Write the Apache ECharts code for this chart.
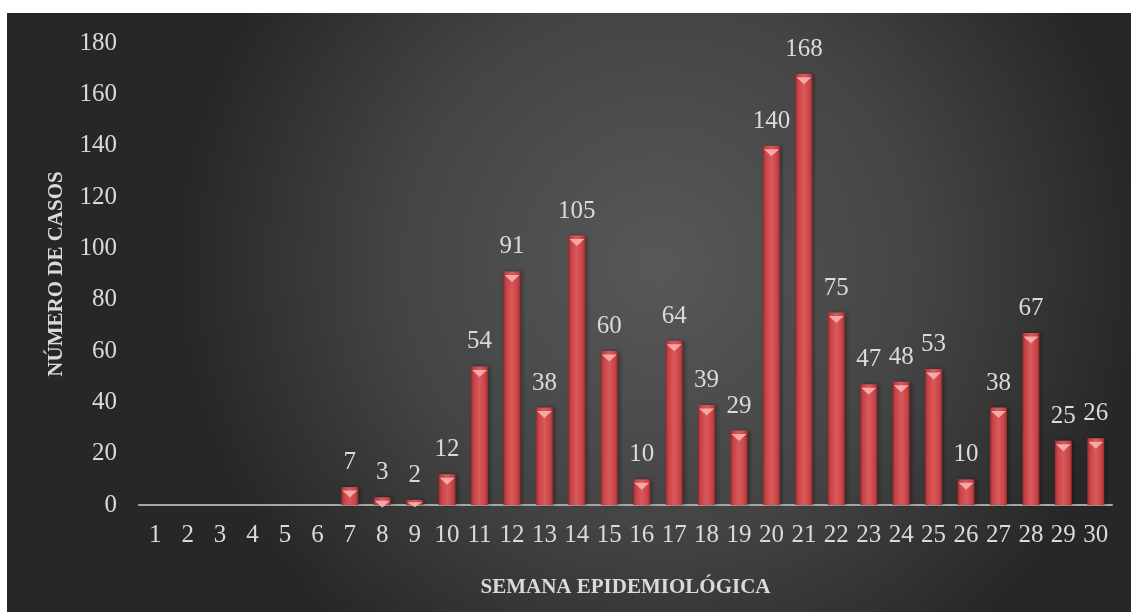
<!DOCTYPE html>
<html>
<head>
<meta charset="utf-8">
<script src="https://cdn.jsdelivr.net/npm/echarts@6/dist/echarts.min.js"></script>
<style>
  html, body { margin: 0; padding: 0; background: #fff; }
  #main { width: 1131px; height: 612px; }
</style>
</head>
<body>
<div id="main"></div>
<script>
// semanas epidemiológicas
const semanas = [
  "1", "2", "3", "4", "5", "6", "7", "8", "9", "10",
  "11", "12", "13", "14", "15", "16", "17", "18", "19", "20",
  "21", "22", "23", "24", "25", "26", "27", "28", "29", "30",
];
// número de casos
const casos = [
  0, 0, 0, 0, 0, 0, 7, 3, 2, 12,
  54, 91, 38, 105, 60, 10, 64, 39, 29, 140,
  168, 75, 47, 48, 53, 10, 38, 67, 25, 26,
];

const fuente = "'Liberation Serif', 'DejaVu Serif', serif";
const gris = "#dadada";

// bisel superior de cada barra (más bajo en barras pequeñas)
const bisel = casos.map((v) =>
  v > 0 ? { value: v, symbolSize: [15, Math.min(7, v * 2.5)] } : null
);

const chart = echarts.init(document.getElementById("main"));

chart.setOption({
  animation: false,
  graphic: [
    {
      type: "rect",
      left: 7,
      top: 13,
      z: -100,
      shape: { width: 1124, height: 599 },
      style: {
        fill: new echarts.graphic.RadialGradient(0.58, 0.42, 0.8, [
          { offset: 0, color: "#585858" },
          { offset: 0.55, color: "#444444" },
          { offset: 1, color: "#272727" },
        ]),
      },
    },
  ],
  grid: {
    left: 139,
    right: 19,
    top: 43,
    bottom: 107,
  },
  xAxis: {
    type: "category",
    data: semanas,
    name: "SEMANA EPIDEMIOLÓGICA",
    nameLocation: "middle",
    nameGap: 72,
    nameTextStyle: {
      color: gris,
      fontFamily: fuente,
      fontWeight: "bold",
      fontSize: 21,
    },
    axisLine: { lineStyle: { color: "#a6a6a6", width: 2 } },
    axisTick: { show: false },
    axisLabel: {
      interval: 0,
      color: gris,
      fontFamily: fuente,
      fontSize: 25,
      margin: 18,
    },
  },
  yAxis: {
    type: "value",
    min: 0,
    max: 180,
    interval: 20,
    name: "NÚMERO DE CASOS",
    nameLocation: "middle",
    nameGap: 72,
    nameTextStyle: {
      color: gris,
      fontFamily: fuente,
      fontWeight: "bold",
      fontSize: 21,
    },
    splitLine: { show: false },
    axisLine: { show: false },
    axisTick: { show: false },
    axisLabel: {
      color: gris,
      fontFamily: fuente,
      fontSize: 25,
      margin: 22,
    },
  },
  series: [
    {
      name: "casos",
      type: "bar",
      data: casos,
      barWidth: 17,
      itemStyle: {
        color: new echarts.graphic.LinearGradient(0, 0, 1, 0, [
          { offset: 0, color: "#962a2c" },
          { offset: 0.15, color: "#c84244" },
          { offset: 0.5, color: "#d95a5c" },
          { offset: 0.85, color: "#c84244" },
          { offset: 1, color: "#962a2c" },
        ]),
        shadowColor: "rgba(0,0,0,0.35)",
        shadowBlur: 4,
        shadowOffsetX: 2,
      },
      label: {
        show: true,
        position: "top",
        distance: 12,
        color: gris,
        fontFamily: fuente,
        fontSize: 25,
        formatter: (p) => (p.value > 0 ? p.value : ""),
      },
      z: 2,
    },
    {
      name: "bisel",
      type: "pictorialBar",
      data: bisel,
      symbol: "path://M0,0 L10,0 L5,5 Z",
      symbolPosition: "end",
      symbolOffset: [0, "50%"],
      itemStyle: { color: "#f4a8a9" },
      z: 3,
      silent: true,
    },
  ],
});
</script>
</body>
</html>
